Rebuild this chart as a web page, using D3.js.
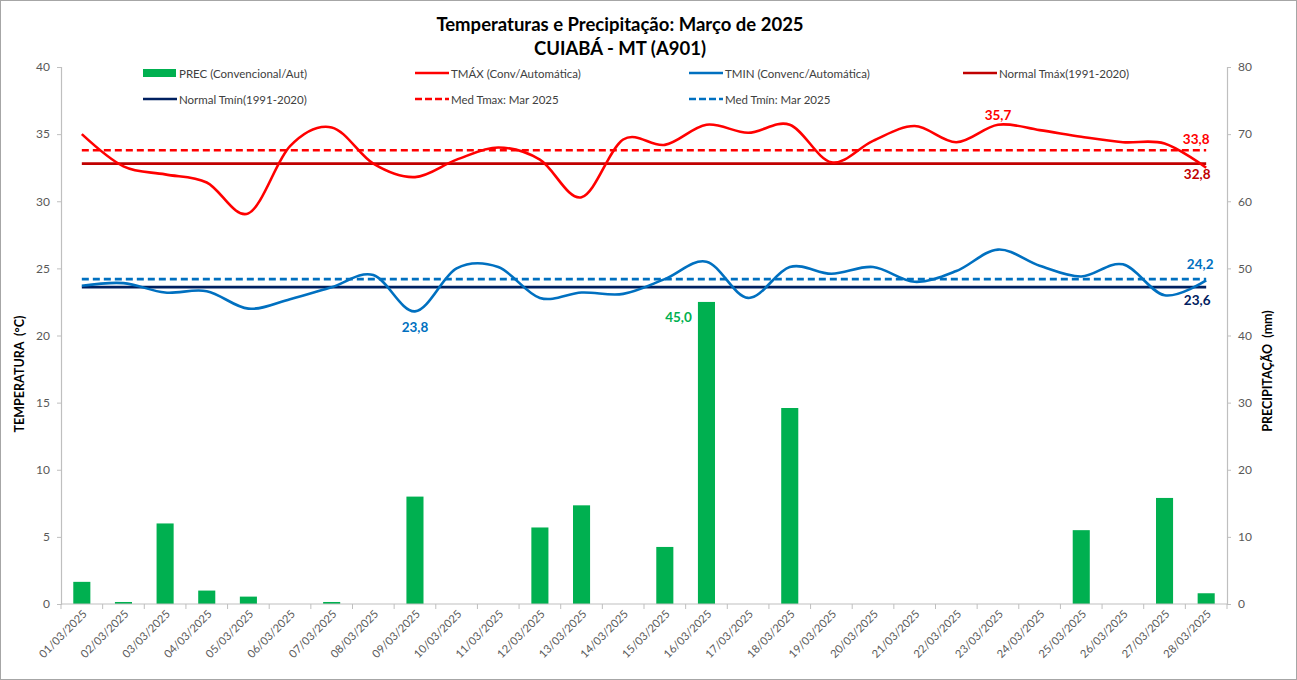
<!DOCTYPE html>
<html>
<head>
<meta charset="utf-8">
<script src="https://cdn.jsdelivr.net/npm/d3@7"></script>
<style>
  html, body { margin: 0; padding: 0; background: #fff; }
  svg { display: block; font-family: Lato, "Open Sans", sans-serif; }
</style>
</head>
<body>
<svg id="chart" width="1297" height="680"></svg>
<script>
// ---------- DATA ----------
const days = ["01/03/2025","02/03/2025","03/03/2025","04/03/2025","05/03/2025","06/03/2025","07/03/2025",
  "08/03/2025","09/03/2025","10/03/2025","11/03/2025","12/03/2025","13/03/2025","14/03/2025",
  "15/03/2025","16/03/2025","17/03/2025","18/03/2025","19/03/2025","20/03/2025","21/03/2025",
  "22/03/2025","23/03/2025","24/03/2025","25/03/2025","26/03/2025","27/03/2025","28/03/2025"];
const prec = [3.3, 0.3, 12.0, 2.0, 1.1, 0, 0.3, 0, 16.0, 0, 0, 11.4, 14.7, 0,
  8.5, 45.0, 0, 29.2, 0, 0, 0, 0, 0, 0, 11.0, 0, 15.8, 1.6];
const tmax = [35.0, 32.6, 32.0, 31.4, 29.1, 34.1, 35.5, 32.8, 31.8, 33.1, 34.0, 33.1, 30.3, 34.6,
  34.2, 35.7, 35.1, 35.7, 32.9, 34.5, 35.6, 34.4, 35.7, 35.3, 34.8, 34.4, 34.3, 32.5];
const tmin = [23.7, 23.9, 23.2, 23.3, 22.0, 22.7, 23.6, 24.5, 21.8, 25.0, 25.1, 22.8, 23.2, 23.1,
  24.2, 25.5, 22.8, 25.1, 24.6, 25.1, 24.0, 24.8, 26.4, 25.2, 24.4, 25.3, 23.0, 24.1];
const normalTmax = 32.8;
const normalTmin = 23.6;
const medTmax = 33.8;
const medTmin = 24.2;
const tempTicks = [0, 5, 10, 15, 20, 25, 30, 35, 40];
const precTicks = [0, 10, 20, 30, 40, 50, 60, 70, 80];
const titleLines = ["Temperaturas e Precipitação: Março de 2025", "CUIABÁ - MT (A901)"];
const legendNames = ["PREC (Convencional/Aut)", "TMÁX (Conv/Automática)", "TMIN (Convenc/Automática)",
  "Normal Tmáx(1991-2020)", "Normal Tmín(1991-2020)", "Med Tmax: Mar 2025", "Med Tmín: Mar 2025"];

// ---------- LAYOUT ----------
const W = 1297, H = 680;
const m = { left: 61, right: W - 1227, top: 67, bottom: H - 604 };
const colors = {
  prec: "#00B050", tmax: "#FF0000", tmin: "#0070C0",
  ntmax: "#C00000", ntmin: "#002060", mtmax: "#FF0000", mtmin: "#0070C0"
};

const svg = d3.select("#chart");
svg.append("rect").attr("x", 0.5).attr("y", 0.5).attr("width", W - 1).attr("height", H - 1)
  .attr("fill", "#fff").attr("stroke", "#A6A6A6").attr("stroke-width", 1);

const x = d3.scaleBand().domain(days).range([m.left, W - m.right]).paddingInner(0).paddingOuter(0);
const bw = x.bandwidth();
const cx = d => x(d) + bw / 2;
const yT = d3.scaleLinear().domain([0, 40]).range([H - m.bottom, m.top]);
const yP = d3.scaleLinear().domain([0, 80]).range([H - m.bottom, m.top]);

// Title
svg.append("g").selectAll("text").data(titleLines).join("text")
  .attr("x", 620).attr("y", (d, i) => 31 + i * 24)
  .attr("text-anchor", "middle").attr("font-size", 18.5).attr("font-weight", "bold")
  .attr("fill", "#000").text(d => d);

// Bars
const barW = bw * 0.41;
svg.append("g").selectAll("rect").data(days).join("rect")
  .attr("x", d => cx(d) - barW / 2)
  .attr("y", (d, i) => yP(prec[i]))
  .attr("width", barW)
  .attr("height", (d, i) => yP(0) - yP(prec[i]))
  .attr("fill", colors.prec);

// Axes
const axisColor = "#BFBFBF";
const tickText = "#595959";
const gL = svg.append("g").attr("transform", `translate(${m.left},0)`)
  .call(d3.axisLeft(yT).tickValues(tempTicks).tickSize(4).tickPadding(7));
const gR = svg.append("g").attr("transform", `translate(${W - m.right},0)`)
  .call(d3.axisRight(yP).tickValues(precTicks).tickSize(4).tickPadding(7));
const gX = svg.append("g").attr("transform", `translate(0,${H - m.bottom})`)
  .call(d3.axisBottom(x).tickSize(0).tickFormat(d => d));
[gL, gR, gX].forEach(g => {
  g.select(".domain").attr("stroke", axisColor).attr("stroke-width", 1.2);
  g.selectAll(".tick line").attr("stroke", axisColor);
  g.selectAll("text").attr("fill", tickText).attr("font-size", 12)
    .attr("font-family", "Lato, 'Open Sans', sans-serif");
});
gX.select(".domain").attr("d", `M${m.left},0H${W - m.right}`);
// x tick marks at band boundaries
gX.append("g").selectAll("line").data(d3.range(days.length + 1)).join("line")
  .attr("x1", i => m.left + i * bw).attr("x2", i => m.left + i * bw)
  .attr("y1", 0).attr("y2", 5).attr("stroke", axisColor);
gX.selectAll(".tick text")
  .attr("text-anchor", "end")
  .attr("font-size", 11.2)
  .attr("transform", "translate(3,8) rotate(-45)")
  .attr("dy", "0.35em").attr("y", 0).attr("x", 0);

// Axis titles
svg.append("text").attr("transform", "translate(24,374) rotate(-90)")
  .attr("text-anchor", "middle").attr("font-size", 12.5).attr("font-weight", "bold")
  .attr("fill", "#000").attr("xml:space", "preserve").text("TEMPERATURA  (°C)");
svg.append("text").attr("transform", "translate(1272,371) rotate(-90)")
  .attr("text-anchor", "middle").attr("font-size", 12.5).attr("font-weight", "bold")
  .attr("fill", "#000").attr("xml:space", "preserve").text("PRECIPITAÇÃO  (mm)");

// Horizontal reference lines
const x0 = cx(days[0]), x1 = cx(days[days.length - 1]);
const hline = (v, col, dash) => svg.append("line")
  .attr("x1", x0).attr("x2", x1).attr("y1", yT(v)).attr("y2", yT(v))
  .attr("stroke", col).attr("stroke-width", 2.6)
  .attr("stroke-dasharray", dash ? "7,4" : null);
hline(normalTmax, colors.ntmax, false);
hline(normalTmin, colors.ntmin, false);
hline(medTmax, colors.mtmax, true);
hline(medTmin, colors.mtmin, true);

// Smoothed curves
const line = d3.line().x((d, i) => cx(days[i])).y(d => yT(d)).curve(d3.curveCatmullRom.alpha(0));
svg.append("path").attr("d", line(tmax)).attr("fill", "none")
  .attr("stroke", colors.tmax).attr("stroke-width", 2.6);
svg.append("path").attr("d", line(tmin)).attr("fill", "none")
  .attr("stroke", colors.tmin).attr("stroke-width", 2.6);

// Data labels
const fmt = v => v.toFixed(1).replace(".", ",");
const lab = (tx, ty, txt, col) => svg.append("text").attr("x", tx).attr("y", ty)
  .attr("text-anchor", "middle").attr("dominant-baseline", "central")
  .attr("font-size", 13.5).attr("font-weight", "bold").attr("fill", col).text(txt);
const iMaxLast = tmax.lastIndexOf(d3.max(tmax));
lab(cx(days[iMaxLast]), yT(tmax[iMaxLast]) - 10, fmt(tmax[iMaxLast]), colors.tmax);
lab(x1 - 10, yT(medTmax) - 11, fmt(medTmax), colors.mtmax);
lab(x1 - 9, yT(normalTmax) + 10, fmt(normalTmax), colors.ntmax);
lab(x1 - 6, yT(medTmin) - 15, fmt(medTmin), colors.mtmin);
lab(x1 - 9, yT(normalTmin) + 13, fmt(normalTmin), colors.ntmin);
const iMinT = tmin.indexOf(d3.min(tmin));
lab(cx(days[iMinT]), yT(tmin[iMinT]) + 16, "23,8", colors.tmin);
const iP = prec.indexOf(d3.max(prec));
lab(cx(days[iP]) - 28, yP(prec[iP]) + 15, fmt(prec[iP]), colors.prec);

// Legend
const legendItems = [
  { name: legendNames[0], type: "rect", col: colors.prec },
  { name: legendNames[1], type: "line", col: colors.tmax },
  { name: legendNames[2], type: "line", col: colors.tmin },
  { name: legendNames[3], type: "line", col: colors.ntmax },
  { name: legendNames[4], type: "line", col: colors.ntmin },
  { name: legendNames[5], type: "dash", col: colors.mtmax },
  { name: legendNames[6], type: "dash", col: colors.mtmin }
];
const colX = [143, 415, 689, 963];
const rowY = [73, 99];
const lg = svg.append("g");
legendItems.forEach((it, i) => {
  const lx = colX[i % 4], ly = rowY[Math.floor(i / 4)];
  if (it.type === "rect") {
    lg.append("rect").attr("x", lx).attr("y", ly - 4).attr("width", 33).attr("height", 8).attr("fill", it.col);
  } else {
    lg.append("line").attr("x1", lx).attr("x2", lx + 34).attr("y1", ly).attr("y2", ly)
      .attr("stroke", it.col).attr("stroke-width", 2.6)
      .attr("stroke-dasharray", it.type === "dash" ? "7,3" : null);
  }
  lg.append("text").attr("x", lx + 36).attr("y", ly).attr("dominant-baseline", "central")
    .attr("font-size", 11.5).attr("fill", "#404040").text(it.name);
});
</script>
</body>
</html>
